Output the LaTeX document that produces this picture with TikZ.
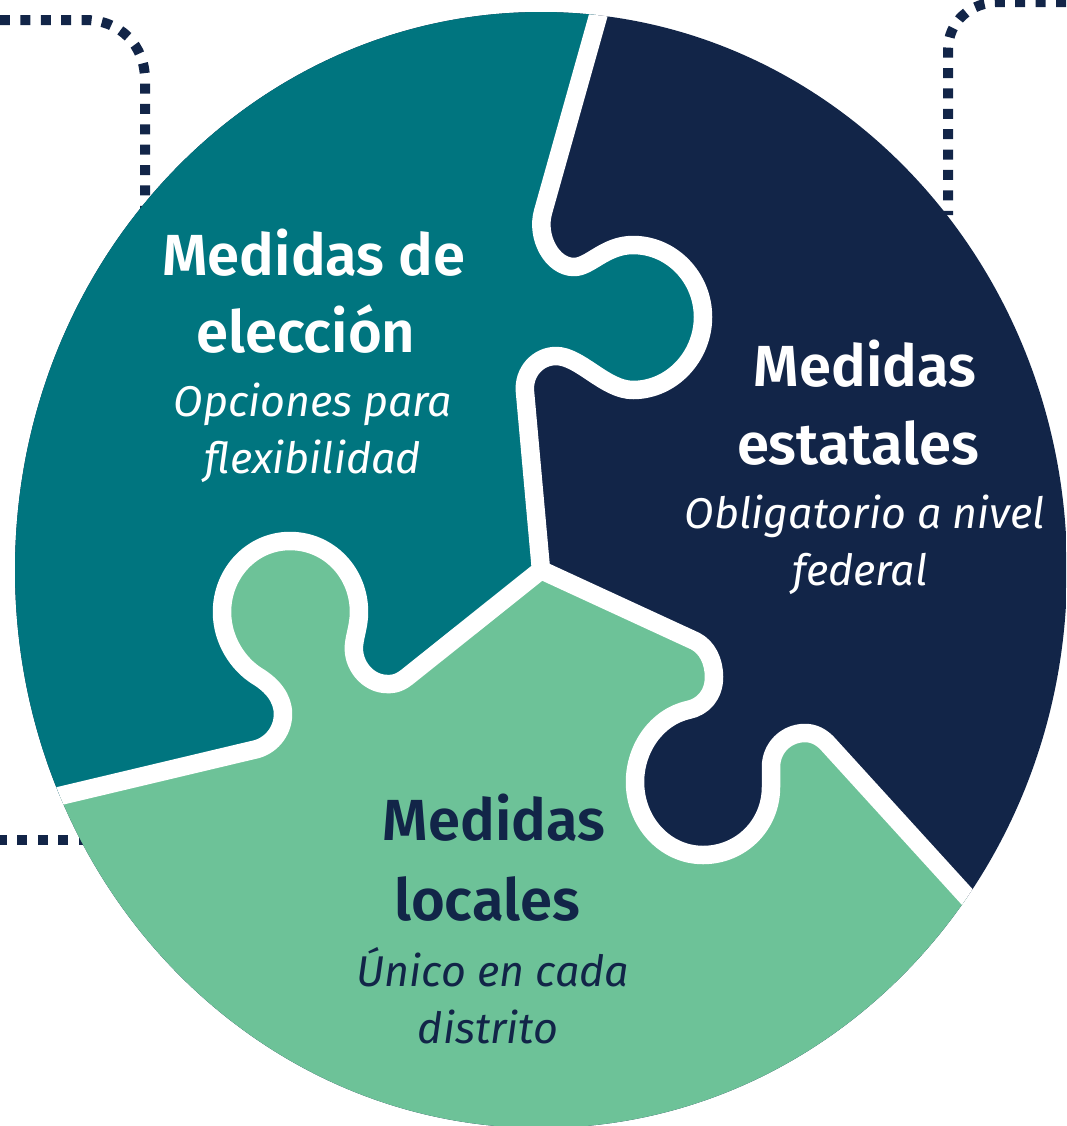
\documentclass[tikz,border=0pt]{standalone}
\usepackage{fontspec}
\setmainfont{Fira Sans}
\newfontfamily\headfont{Fira Sans}[UprightFont=*,BoldFont=* SemiBold]
\newfontfamily\subfont{Fira Sans}[ItalicFont=* Italic]
\definecolor{tealc}{HTML}{00757F}
\definecolor{navyc}{HTML}{122548}
\definecolor{greenc}{HTML}{6DC298}
\def\curveA{(604,-5) -- (543,212)
 .. controls (536,237) and (552,267) .. (574,267)
 .. controls (590,267) and (605,245) .. (633,245)
 .. controls (672,245) and (703,278) .. (703,317)
 .. controls (703,356) and (672,390) .. (633,390)
 .. controls (605,390) and (580,356) .. (556,356)
 .. controls (538,356) and (523,372) .. (525,392)
 -- (541,570)}
\def\curveBtail{-- (407,677)
 .. controls (397,685) and (390,684) .. (387,684)
 .. controls (368,684) and (352,665) .. (354,645)
 .. controls (355,635) and (359,625) .. (359,612)
 .. controls (359,573) and (329,541) .. (290,541)
 .. controls (252,541) and (222,573) .. (222,612)
 .. controls (222,640) and (238,664) .. (257,676)
 .. controls (272,685) and (283,698) .. (283,714)
 .. controls (283,732) and (270,747) .. (253,750)
 -- (30,803)}
\def\curveC{(541,570) -- (695,641)
 .. controls (707,647) and (714,661) .. (714,677)
 .. controls (714,695) and (703,707) .. (688,710)
 .. controls (657,717) and (635,748) .. (635,782)
 .. controls (635,822) and (665,855) .. (703,855)
 .. controls (741,855) and (771,825) .. (771,787)
 .. controls (771,780) and (771,775) .. (771,767)
 .. controls (771,748) and (786,733) .. (805,733)
 .. controls (814,733) and (821,737) .. (827,743)
 -- (990,922)}
\def\curveCrev{(990,922) -- (827,743)
 .. controls (821,737) and (814,733) .. (805,733)
 .. controls (786,733) and (771,748) .. (771,767)
 .. controls (771,775) and (771,780) .. (771,787)
 .. controls (771,825) and (741,855) .. (703,855)
 .. controls (665,855) and (635,822) .. (635,782)
 .. controls (635,748) and (657,717) .. (688,710)
 .. controls (703,707) and (714,695) .. (714,677)
 .. controls (714,661) and (707,647) .. (695,641)
 -- (541,570)}
\tikzset{
  dots/.style={draw=navyc,line width=0.2cm,dash pattern=on 0.2cm off 0.208cm},
  seam/.style={draw=white,line width=0.37cm,line join=round},
  headw/.style={anchor=base,text=white,font=\headfont\fontsize{33}{40}\selectfont\bfseries},
  subw/.style={anchor=base,text=white,font=\subfont\fontsize{24.5}{30}\selectfont\itshape},
  headn/.style={headw,text=navyc},
  subn/.style={subw,text=navyc}
}
\begin{document}
\begin{tikzpicture}[x=0.02cm,y=-0.02cm]
\useasboundingbox (0,0) rectangle (1066,1126);
\clip (0,0) rectangle (1066,1126);
% dotted backing lines
\draw[dots] (0,20) -- (85,20) .. controls (120,20) and (145,45) .. (145,80) -- (145,210);
\draw[dots] (1066,2) -- (1000,2) .. controls (970,2) and (948,22) .. (948,50) -- (948,215);
\draw[dots,dash phase=0.06cm] (0,840) -- (95,840);
% puzzle
\begin{scope}
\clip (541,570) ellipse [x radius=526,y radius=558];
\fill[navyc] (0,0) rectangle (1100,1200);
\fill[tealc] \curveA \curveBtail -- (-50,803) -- (-50,-50) -- (604,-50) -- cycle;
\fill[greenc] (541,570) \curveBtail -- (-50,1200) -- (1100,1200) -- (1100,1000) -- \curveCrev -- cycle;
\draw[seam] \curveA;
\draw[seam] (541,570) \curveBtail;
\draw[seam] \curveC;
\end{scope}
% labels
\node[headw] (t1) at (314,275) {Medidas de};
\node[headw] (t2) at (306,352) {elección};
\node[subw] (t3) at (313,416) {Opciones para};
\node[subw] (t4) at (313,473) {flexibilidad};
\node[headw] (e1) at (865,386) {Medidas};
\node[headw] (e2) at (858,464) {estatales};
\node[subw] (e3) at (865,528) {Obligatorio a nivel};
\node[subw] (e4) at (860,585) {federal};
\node[headn] (l1) at (494,840) {Medidas};
\node[headn] (l2) at (487,920) {locales};
\node[subn] (l3) at (493,986) {Único en cada};
\node[subn] (l4) at (488,1043) {distrito};
\end{tikzpicture}
\end{document}
